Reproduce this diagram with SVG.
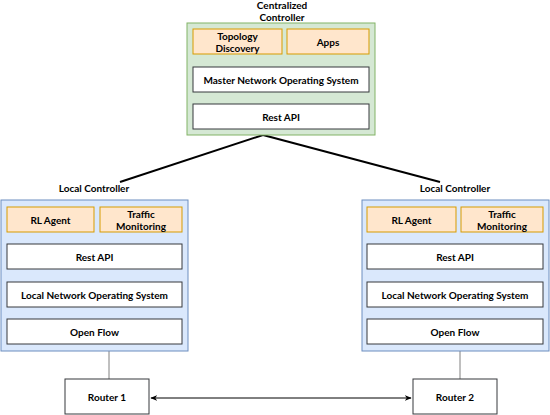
<svg xmlns="http://www.w3.org/2000/svg" width="550" height="415" viewBox="0 0 550 415">
<style>
text{font-family:Lato,"Liberation Sans",sans-serif;font-weight:bold;font-size:10px;fill:#000;text-anchor:middle;dominant-baseline:central}
.g{fill:#d5e8d4;stroke:#82b366;stroke-width:1}
.b{fill:#dae8fc;stroke:#6c8ebf;stroke-width:1}
.o{fill:#ffe6cc;stroke:#d79b00;stroke-width:1}
.w{fill:#fff;stroke:#36393d;stroke-width:1}
</style>
<defs>
<marker id="ah" viewBox="0 0 10 10" refX="9" refY="5" markerWidth="7" markerHeight="7" orient="auto-start-reverse"><path d="M0,1 L10,5 L0,9 L3,5 Z" fill="#000"/></marker>
</defs>
<g id="connectors">
<path d="M263,135 L120,182" stroke="#000" stroke-width="2" fill="none"/>
<path d="M263,135 L440,182" stroke="#000" stroke-width="2" fill="none"/>
<path d="M109,351 L109,379" stroke="#808080" stroke-width="1" fill="none"/>
<path d="M460,351 L460,379" stroke="#808080" stroke-width="1" fill="none"/>
<path d="M151,398 L411,398" stroke="#000" stroke-width="1" fill="none" marker-start="url(#ah)" marker-end="url(#ah)"/>
</g>
<g id="central">
<text x="282" y="5">Centralized</text>
<text x="282" y="17">Controller</text>
<rect class="g" x="187" y="23" width="188" height="112"/>
<g id="topology"><rect class="o" x="193" y="29" width="89" height="25"/><text x="237.5" y="36">Topology</text><text x="237.5" y="48">Discovery</text></g>
<g id="apps"><rect class="o" x="287" y="29" width="82" height="25"/><text x="328" y="41.5">Apps</text></g>
<g id="master-nos"><rect class="w" x="193" y="67" width="176" height="25"/><text x="281" y="79.5">Master Network Operating System</text></g>
<g id="central-rest"><rect class="w" x="193" y="104" width="176" height="25"/><text x="281" y="116.5">Rest API</text></g>
</g>
<g id="local-left">
<text x="94" y="188">Local Controller</text>
<rect class="b" x="1" y="200" width="187" height="151"/>
<g id="rl-left"><rect class="o" x="7" y="207" width="87" height="25"/><text x="50.5" y="219.5">RL Agent</text></g>
<g id="traffic-left"><rect class="o" x="100" y="207" width="82" height="25"/><text x="141" y="213.5">Traffic</text><text x="141" y="225.5">Monitoring</text></g>
<g id="rest-left"><rect class="w" x="7" y="244" width="175" height="25"/><text x="94.5" y="256.5">Rest API</text></g>
<g id="nos-left"><rect class="w" x="7" y="282" width="175" height="25"/><text x="94.5" y="294.5">Local Network Operating System</text></g>
<g id="of-left"><rect class="w" x="7" y="319" width="175" height="25"/><text x="94.5" y="331.5">Open Flow</text></g>
</g>
<g id="local-right">
<text x="455" y="188">Local Controller</text>
<rect class="b" x="362" y="200" width="187" height="151"/>
<g id="rl-right"><rect class="o" x="367" y="207" width="89" height="25"/><text x="411.5" y="219.5">RL Agent</text></g>
<g id="traffic-right"><rect class="o" x="461" y="207" width="82" height="25"/><text x="502" y="213.5">Traffic</text><text x="502" y="225.5">Monitoring</text></g>
<g id="rest-right"><rect class="w" x="367" y="244" width="176" height="25"/><text x="455" y="256.5">Rest API</text></g>
<g id="nos-right"><rect class="w" x="367" y="282" width="176" height="25"/><text x="455" y="294.5">Local Network Operating System</text></g>
<g id="of-right"><rect class="w" x="367" y="319" width="176" height="25"/><text x="455" y="331.5">Open Flow</text></g>
</g>
<g id="router1"><rect class="w" x="65" y="379" width="84" height="35"/><text x="107" y="396.5">Router 1</text></g>
<g id="router2"><rect class="w" x="413" y="379" width="84" height="35"/><text x="455" y="396.5">Router 2</text></g>
</svg>
